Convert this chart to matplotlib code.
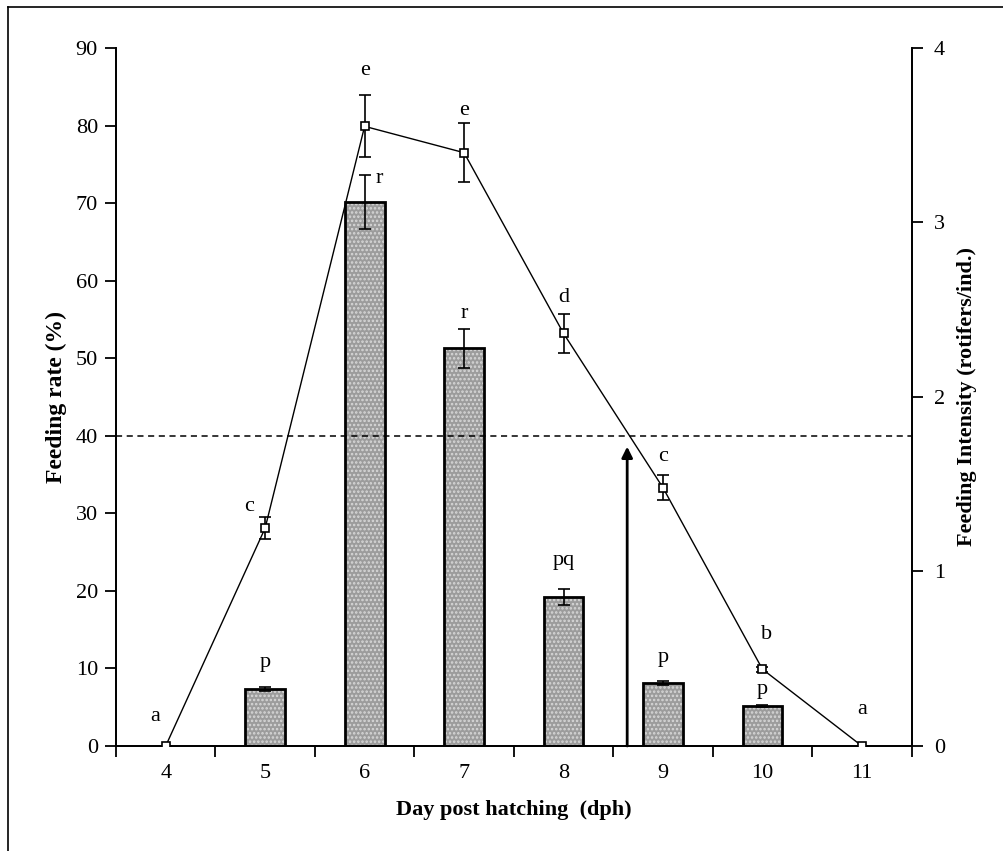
import numpy as np
import matplotlib
matplotlib.use('Agg')
import matplotlib.pyplot as plt
from matplotlib.lines import Line2D

plt.rcParams['font.family'] = ['Liberation Serif', 'DejaVu Serif']
plt.rcParams['hatch.linewidth'] = 1.2

# Feeding rate (%) -> line, left axis
days = [4, 5, 6, 7, 8, 9, 10, 11]
rate = [0, 28.1, 79.9, 76.5, 53.2, 33.3, 9.9, 0]
rate_err = [0, 1.4, 4.0, 3.8, 2.5, 1.6, 0.3, 0]
rate_letters = ['a', 'c', 'e', 'e', 'd', 'c', 'b', 'a']

# Feeding intensity (rotifers/ind.) -> bars, right axis
bar_days = [5, 6, 7, 8, 9, 10]
intensity = [0.327, 3.115, 2.28, 0.856, 0.36, 0.229]
intensity_err = [0.013, 0.155, 0.111, 0.046, 0.013, 0.006]
bar_letters = ['p', 'r', 'r', 'pq', 'p', 'p']

threshold = 40      # dashed reference line (%)
arrow_day = 8.64    # arrow position on the x axis
arrow_top = 38.6

fig = plt.figure(figsize=(10.04, 8.51), dpi=100)
ax = fig.add_axes([0.1155, 0.1234, 0.7925, 0.8202])
ax2 = ax.twinx()

# bars (dotted grey fill, then black outline)
ax2.bar(bar_days, intensity, width=0.4, color='#9c9c9c', edgecolor='#d8d8d8',
        hatch='....', linewidth=0, zorder=1)
ax2.bar(bar_days, intensity, width=0.4, fill=False, edgecolor='black',
        linewidth=2, zorder=2)
ax2.errorbar(bar_days, intensity, yerr=intensity_err, fmt='none', ecolor='black',
             elinewidth=1.2, capsize=4.5, capthick=1.2, zorder=3)
ax2.set_ylim(0, 4)
ax2.set_yticks([0, 1, 2, 3, 4])

# line on top
ax.set_zorder(ax2.get_zorder() + 1)
ax.patch.set_visible(False)
ax.errorbar(days, rate, yerr=rate_err, color='black', lw=1, marker='s', ms=6,
            mfc='white', mec='black', mew=1.2, capsize=4.5, capthick=1.2,
            elinewidth=1.2, zorder=4)
ax.axhline(threshold, color='black', ls=(0, (4, 3)), lw=1.1, zorder=2)
ax.annotate('', xy=(arrow_day, arrow_top), xytext=(arrow_day, 0),
            arrowprops=dict(arrowstyle='-|>', lw=2, color='black', mutation_scale=16,
                            shrinkA=0, shrinkB=0), zorder=3)

# significance letters
line_offsets = [(-11, 29), (-16, 11), (0, 25), (0, 13), (0, 17), (0, 19), (4, 32), (0, 36)]
for d, v, e, t, (dx, dy) in zip(days, rate, rate_err, rate_letters, line_offsets):
    ax.annotate(t, (d, v + e), xytext=(dx, dy), textcoords='offset pixels',
                ha='center', va='center', fontsize=16, zorder=5)

bar_offsets = [(0, 24), (15, -3), (0, 15), (0, 28), (0, 23), (0, 15)]
for d, v, e, t, (dx, dy) in zip(bar_days, intensity, intensity_err, bar_letters, bar_offsets):
    ax2.annotate(t, (d, v + e), xytext=(dx, dy), textcoords='offset pixels',
                 ha='center', va='center', fontsize=16, zorder=5)

ax.set_xlim(3.5, 11.5)
ax.set_ylim(0, 90)
ax.set_yticks(np.arange(0, 91, 10))
ax.set_xticks(np.arange(3.5, 11.6, 1))
ax.set_xticklabels([])
ax.set_xticks(days, minor=True)
ax.set_xticklabels([str(d) for d in days], minor=True)
ax.tick_params(axis='x', which='minor', length=0, labelsize=16, pad=13)
ax.tick_params(axis='x', which='major', length=8, width=1.3, direction='out')
ax.tick_params(axis='y', length=8, width=1.3, labelsize=16, pad=5)
ax2.tick_params(axis='y', length=8, width=1.3, labelsize=16, pad=8)

for a in (ax, ax2):
    a.spines['top'].set_visible(False)
    for s in ('left', 'right', 'bottom'):
        a.spines[s].set_linewidth(1.3)

ax.set_xlabel('Day post hatching  (dph)', fontsize=16, fontweight='bold', labelpad=12)
ax.set_ylabel('Feeding rate (%)', fontsize=17, fontweight='bold', labelpad=6)
ax2.set_ylabel('Feeding Intensity (rotifers/ind.)', fontsize=16, fontweight='bold', labelpad=9)

# outer frame of the figure panel
fig.add_artist(Line2D([0.008, 1.0], [0.9918, 0.9918], color='black', lw=1.2))
fig.add_artist(Line2D([0.008, 0.008], [0.0, 0.9918], color='black', lw=1.2))

fig.savefig('out.png', dpi=100)
